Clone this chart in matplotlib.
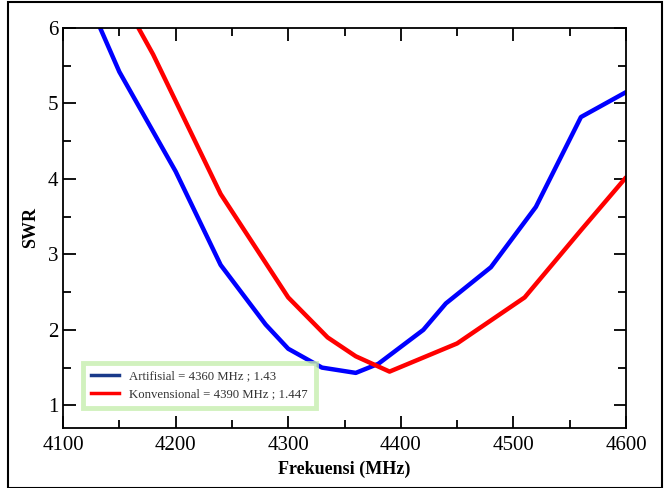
import matplotlib
matplotlib.use("Agg")
import matplotlib.pyplot as plt
from matplotlib.patches import Rectangle
from matplotlib.ticker import MultipleLocator
from matplotlib.lines import Line2D

plt.rcParams['font.family'] = ['Liberation Serif', 'DejaVu Serif']

freq_art = [4133, 4150, 4200, 4240, 4280, 4300, 4330, 4360, 4380, 4420, 4440, 4480, 4520, 4560, 4600]
swr_art = [6.0, 5.42, 4.1, 2.86, 2.07, 1.75, 1.5, 1.43, 1.55, 2.0, 2.35, 2.83, 3.63, 4.82, 5.15]

freq_konv = [4167, 4180, 4240, 4300, 4335, 4360, 4390, 4450, 4510, 4560, 4600]
swr_konv = [6.0, 5.65, 3.8, 2.43, 1.9, 1.65, 1.447, 1.82, 2.43, 3.32, 4.02]

label_art = "Artifisial = 4360 MHz ; 1.43"
label_konv = "Konvensional = 4390 MHz ; 1.447"

fig = plt.figure(figsize=(6.67, 4.88), dpi=100)
ax = fig.add_axes([0.0945, 0.123, 0.844, 0.8196])

ax.plot(freq_art, swr_art, color='#0000ff', lw=3.2, solid_capstyle='round', solid_joinstyle='round')
ax.plot(freq_konv, swr_konv, color='#ff0000', lw=3.2, solid_capstyle='round', solid_joinstyle='round')

ax.set_xlim(4100, 4600)
ax.set_ylim(0.7, 6)
ax.xaxis.set_major_locator(MultipleLocator(100))
ax.xaxis.set_minor_locator(MultipleLocator(50))
ax.yaxis.set_major_locator(MultipleLocator(1))
ax.yaxis.set_minor_locator(MultipleLocator(0.5))
ax.tick_params(which='both', direction='in', top=True, right=True, labelsize=15, width=1.3)
ax.tick_params(which='major', length=9)
ax.tick_params(which='minor', length=6)
ax.tick_params(axis='x', pad=6)
for s in ax.spines.values():
    s.set_linewidth(1.3)

ax.set_xlabel('Frekuensi (MHz)', fontsize=13, fontweight='bold', labelpad=4)
ax.set_ylabel('SWR', fontsize=13, fontweight='bold', labelpad=6)

handles = [Line2D([], [], color='#1a3a8a', lw=2.5), Line2D([], [], color='#ff0000', lw=2.5)]
leg = ax.legend(handles, [label_art, label_konv], loc='lower left', bbox_to_anchor=(0.036, 0.05),
                borderaxespad=0, fontsize=9.2, frameon=True, fancybox=False, handlelength=2.2,
                borderpad=0.6, labelspacing=0.45, handletextpad=0.8)
leg.get_frame().set_edgecolor('#c6eeae')
leg.get_frame().set_linewidth(3.5)
for t in leg.get_texts():
    t.set_color('#333333')

fig.patches.append(Rectangle((8/667, 0.0), (662-8)/667, 1 - 2/488, transform=fig.transFigure,
                             fill=False, edgecolor='black', lw=1.5))

fig.savefig('out.png', dpi=100)
